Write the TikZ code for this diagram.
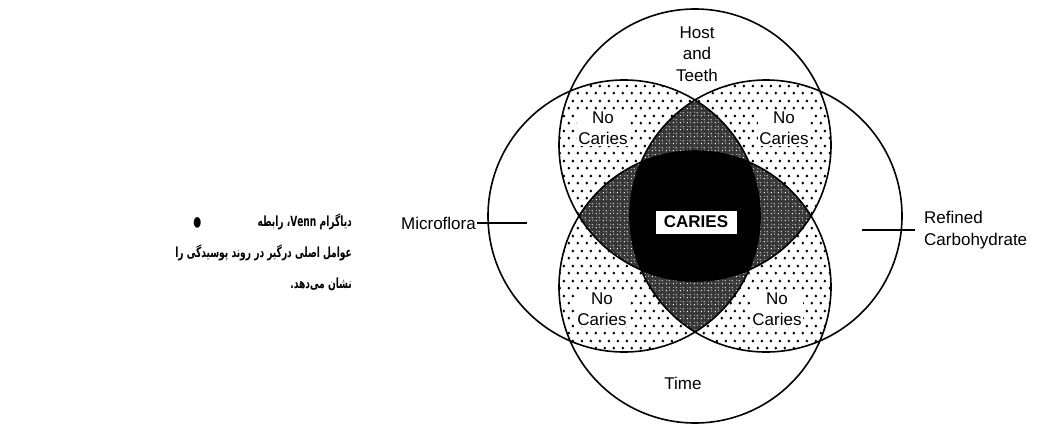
\documentclass[tikz,border=0pt]{standalone}
\usepackage{fontspec}
\setmainfont{Liberation Sans}
\newfontfamily\farsifont[Script=Arabic]{DejaVu Sans}
\usetikzlibrary{positioning,patterns.meta}
\TeXXeTstate=1
\newcommand{\fa}[1]{\beginR #1\endR}
\newcommand{\lblsize}{\fontsize{17}{21.5}\selectfont}
\newcommand{\capsize}{\fontsize{14}{16}\selectfont}

\tikzdeclarepattern{
  name=bigdots, type=uncolored,
  bottom left={(0pt,0pt)}, top right={(9pt,15pt)},
  tile size={(9pt,15pt)},
  code={\fill (2pt,2pt) circle (1.55pt); \fill (6.5pt,9.5pt) circle (1.55pt);}
}
\tikzdeclarepattern{
  name=speckle, type=uncolored,
  bottom left={(0pt,0pt)}, top right={(7pt,7pt)},
  tile size={(7pt,7pt)},
  code={\fill (1pt,1pt) rectangle (2.2pt,2pt); \fill (4pt,4.5pt) rectangle (5.5pt,5.3pt); \fill (5pt,1.5pt) rectangle (5.8pt,2.6pt); \fill (1.5pt,5pt) rectangle (2.3pt,5.8pt);}
}

\begin{document}
\begin{tikzpicture}[x=1pt,y=-1pt,
  ring/.style={line width=1.6pt},
  lbl/.style={font=\lblsize,align=center,inner sep=0pt},
  nclbl/.style={lbl,fill=white,inner sep=1.5pt},
  capt/.style={font=\farsifont\bfseries\capsize,inner sep=0pt,xscale=0.65,transform shape},
  dotfill/.style={pattern=bigdots},
  texfill/.style={preaction={fill=black!78},pattern=speckle,pattern color=white}]
\useasboundingbox (0,0) rectangle (1043,424);
\def\cT{(695,145) circle (136)}
\def\cB{(695,287) circle (136)}
\def\cL{(624,216) circle (136)}
\def\cR{(766,216) circle (136)}
\begin{scope}
  \clip \cT;
  \fill[dotfill] \cL; \fill[dotfill] \cR;
\end{scope}
\begin{scope}
  \clip \cB;
  \fill[dotfill] \cL; \fill[dotfill] \cR;
\end{scope}
\begin{scope}
  \clip \cT; \clip \cL;
  \fill[texfill] \cR; \fill[texfill] \cB;
\end{scope}
\begin{scope}
  \clip \cB; \clip \cR;
  \fill[texfill] \cL; \fill[texfill] \cT;
\end{scope}
\begin{scope}
  \clip \cT; \clip \cL; \clip \cR;
  \fill[black] \cB;
\end{scope}
\foreach \c in {\cT,\cB,\cL,\cR} {
  \draw[ring] \c;
}
\node (host) at (697,54) [lbl] {Host\\and\\Teeth};
\node (time) at (683,383) [lbl] {Time};
\foreach \n/\x/\y in {nctl/603/128,nctr/784/128,ncbl/602/309,ncbr/777/309} {
  \node (\n) at (\x,\y) [nclbl] {No\\Caries};
}
\node (caries) at (696,222) [lbl,font=\lblsize\bfseries,fill=white,draw,thin,minimum width=82pt,minimum height=24pt] {CARIES};
\node (micro) at (477,223) [lbl,anchor=east,inner xsep=1pt] {Microflora};
\coordinate (mtick) at (527,223);
\draw[line width=1.4pt] (micro.east) -- (mtick);
\node (rcarb) at (915,230) [lbl,anchor=west,align=left,inner xsep=9pt] {Refined\\Carbohydrate};
\coordinate (rtick) at (862,230);
\draw[line width=1.4pt] (rtick) -- (rcarb.west);
\node (cap1) at (352,226) [capt,anchor=base east] {\fa{دیاگرام \beginL Venn\endL{}، رابطه}};
\node (bullet) [capt,base left=56pt of cap1] {●};
\node (cap2) at (352,257) [capt,anchor=base east] {\fa{عوامل اصلی درگیر در روند پوسیدگی را}};
\node (cap3) at (352,288) [capt,anchor=base east] {\fa{نشان می‌دهد.}};
\end{tikzpicture}
\end{document}
